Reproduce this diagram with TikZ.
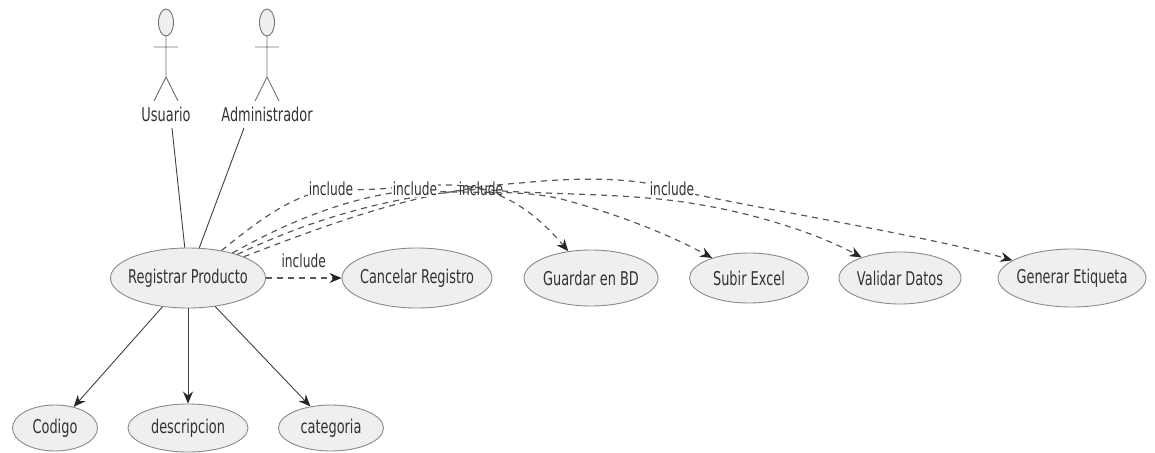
\documentclass[tikz,border=0pt]{standalone}
\usepackage{fontspec}
\setmainfont[FakeStretch=0.68]{DejaVu Sans}
\usetikzlibrary{arrows.meta,shapes.geometric}
\definecolor{usecasefill}{HTML}{EFEFEF}
\definecolor{usecaseline}{HTML}{8A8A8A}
\definecolor{textgray}{HTML}{333333}
\tikzset{
  usecase/.style={ellipse,draw=usecaseline,line width=0.9pt,fill=usecasefill,text=textgray,font=\fontsize{19}{21}\selectfont,inner sep=0pt,inner xsep=-10pt},
  actorlabel/.style={text=textgray,font=\fontsize{19}{21}\selectfont,inner sep=0pt},
  includelabel/.style={text=textgray,font=\fontsize{18}{20}\selectfont,inner sep=1pt},
  assoc/.style={draw=black!75,line width=0.9pt},
  arrowto/.style={assoc,-{Stealth[length=12pt,width=10pt,inset=4pt,color=black!85]}},
  includeto/.style={arrowto,dash pattern=on 6pt off 5pt,line width=1.2pt,draw=black!65},
  actorline/.style={draw=black!55,line width=0.9pt},
}
\begin{document}
\begin{tikzpicture}[x=1pt,y=-1pt]
\useasboundingbox (0,0) rectangle (1155,452);
\foreach \cx in {166,267}{
\draw[actorline,fill=usecasefill] (\cx,22.5) ellipse (7.5 and 13.5);
\draw[actorline] (\cx,36) -- (\cx,77) (\cx-12,47) -- (\cx+12,47) (\cx-12,101) -- (\cx,77) -- (\cx+12,101);
}
\node[actorlabel] (usuario) at (166,114) {Usuario};
\node[actorlabel] (admin) at (267,114) {Administrador};
\coordinate (usuarioend) at (172,128);
\coordinate (adminend) at (244,128);
\node[usecase,minimum width=155pt,minimum height=60pt] (registrar) at (188,278) {Registrar Producto};
\node[usecase,minimum width=150pt,minimum height=60pt] (cancelar) at (417,278) {Cancelar Registro};
\node[usecase,minimum width=134pt,minimum height=56pt] (guardar) at (591,278) {Guardar en BD};
\node[usecase,minimum width=119pt,minimum height=50pt] (subir) at (749,278) {Subir Excel};
\node[usecase,minimum width=122pt,minimum height=52pt] (validar) at (900,278) {Validar Datos};
\node[usecase,minimum width=148pt,minimum height=58pt] (generar) at (1072,278) {Generar Etiqueta};
\node[usecase,minimum width=85pt,minimum height=46pt] (codigo) at (55,428) {Codigo};
\node[usecase,minimum width=120pt,minimum height=48pt] (descripcion) at (188,428) {descripcion};
\node[usecase,minimum width=105pt,minimum height=46pt] (categoria) at (331,428) {categoria};
\draw[assoc] (usuarioend) -- (registrar);
\draw[assoc] (adminend) -- (registrar);
\draw[arrowto] (registrar) -- (codigo);
\draw[arrowto] (registrar) -- (descripcion);
\draw[arrowto] (registrar) -- (categoria);
\draw[includeto] (registrar) -- node[above=9pt,includelabel]{include} (cancelar);
\draw[includeto] (registrar) .. controls (265,215) and (295,195) .. (331,189) .. controls (390,192) and (400,184) .. (450,185) .. controls (500,186) and (535,212) .. (guardar);
\draw[includeto] (registrar) .. controls (300,215) and (360,195) .. (415,190) .. controls (470,195) and (520,188) .. (565,200) .. controls (620,215) and (670,235) .. (subir);
\draw[includeto] (registrar) .. controls (320,215) and (400,195) .. (481,189) .. controls (530,195) and (620,192) .. (690,203) .. controls (760,214) and (820,235) .. (validar);
\draw[includeto] (registrar) .. controls (340,220) and (420,190) .. (520,183) .. controls (570,178) and (630,176) .. (672,189) .. controls (720,202) and (930,236) .. (generar);
\node[includelabel,fill=white] (inc1) at (331,189) {include};
\node[includelabel,fill=white] (inc2) at (415,189) {include};
\node[includelabel] (inc3) at (481,189) {include};
\node[includelabel,fill=white] (inc4) at (672,189) {include};
\end{tikzpicture}
\end{document}
